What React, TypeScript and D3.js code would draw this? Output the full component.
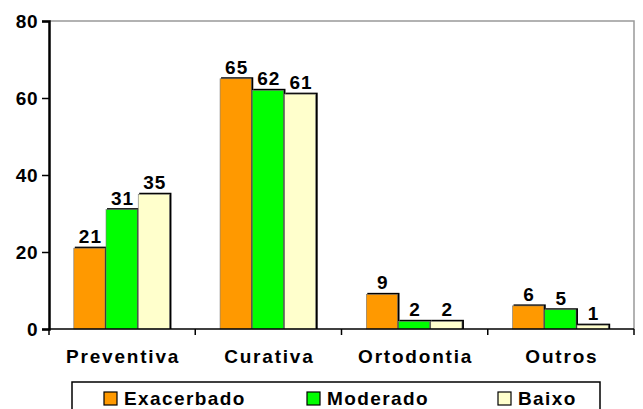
import { useRef, useEffect } from 'react';
import * as d3 from 'd3';

// chart data
const categories = ['Preventiva', 'Curativa', 'Ortodontia', 'Outros'];
const seriesNames = ['Exacerbado', 'Moderado', 'Baixo'];
const exacerbado = [21, 65, 9, 6];
const moderado = [31, 62, 2, 5];
const baixo = [35, 61, 2, 1];
const yTicks = [0, 20, 40, 60, 80];

const COLORS = ['#FF9900', '#00FF00', '#FFFFCC'];
const W = 643;
const H = 409;
const FONT = "'Liberation Sans', Arial, sans-serif";

export default function App() {
  const svgRef = useRef(null);

  useEffect(() => {
    const svg = d3.select(svgRef.current);
    svg.selectAll('*').remove();

    const margin = { top: 21, right: 9, bottom: 80, left: 49 };
    const series = [exacerbado, moderado, baixo];

    const x = d3.scaleBand()
      .domain(categories)
      .range([margin.left, W - margin.right])
      .paddingInner(0)
      .paddingOuter(0);

    const inner = d3.scaleBand()
      .domain(seriesNames)
      .range([0, x.bandwidth()])
      .paddingOuter(0.77)
      .paddingInner(0);

    const y = d3.scaleLinear()
      .domain([0, 80])
      .range([H - margin.bottom, margin.top]);

    svg.append('rect').attr('width', W).attr('height', H).attr('fill', '#fff');

    // plot frame (grey top/right)
    svg.append('path')
      .attr('d', `M${margin.left},${y(80)} H${W - margin.right} V${y(0)}`)
      .attr('fill', 'none')
      .attr('stroke', '#999')
      .attr('stroke-width', 1.5);

    // bars
    seriesNames.forEach((name, si) => {
      categories.forEach((cat, ci) => {
        const v = series[si][ci];
        const bx = x(cat) + inner(name);
        const bw = inner.bandwidth();
        const by = y(v);
        const bh = y(0) - by;
        // shadow edge (top/right)
        svg.append('rect')
          .attr('x', bx + 1)
          .attr('y', by - 1.5)
          .attr('width', bw)
          .attr('height', bh + 1.5)
          .attr('fill', '#000');
        svg.append('rect')
          .attr('x', bx)
          .attr('y', by)
          .attr('width', bw - 1)
          .attr('height', bh)
          .attr('fill', COLORS[si])
          .attr('stroke', '#777')
          .attr('stroke-width', 0.6);
        svg.append('text')
          .attr('x', bx + bw / 2 + 0.5)
          .attr('y', by - 5)
          .attr('text-anchor', 'middle')
          .attr('font-family', FONT)
          .attr('font-weight', 'bold')
          .attr('font-size', 19)
          .attr('letter-spacing', 1)
          .attr('fill', '#000')
          .text(v);
      });
    });

    // y axis
    const yAxis = d3.axisLeft(y).tickValues(yTicks).tickSize(7).tickPadding(4);
    const gy = svg.append('g')
      .attr('transform', `translate(${margin.left},0)`)
      .call(yAxis);
    gy.select('.domain').attr('stroke', '#000').attr('stroke-width', 2.5);
    gy.selectAll('.tick line').attr('stroke', '#000').attr('stroke-width', 1.5);
    gy.selectAll('text')
      .attr('font-family', FONT)
      .attr('font-weight', 'bold')
      .attr('font-size', 19)
      .attr('letter-spacing', 0.5)
      .attr('fill', '#000');

    // x axis baseline and category separators
    svg.append('line')
      .attr('x1', margin.left)
      .attr('x2', W - margin.right)
      .attr('y1', y(0))
      .attr('y2', y(0))
      .attr('stroke', '#000')
      .attr('stroke-width', 1.5);
    categories.forEach((cat, i) => {
      const edges = i === 0 ? [x(cat), x(cat) + x.bandwidth()] : [x(cat) + x.bandwidth()];
      edges.forEach(ex => {
        svg.append('line')
          .attr('x1', ex).attr('x2', ex)
          .attr('y1', y(0)).attr('y2', y(0) + 6)
          .attr('stroke', '#000')
          .attr('stroke-width', 1.5);
      });
      svg.append('text')
        .attr('x', x(cat) + x.bandwidth() / 2 + 1)
        .attr('y', y(0) + 34)
        .attr('text-anchor', 'middle')
        .attr('font-family', FONT)
        .attr('font-weight', 'bold')
        .attr('font-size', 19)
        .attr('letter-spacing', 1.8)
        .attr('fill', '#000')
        .text(cat);
    });

    // legend
    const lg = svg.append('g');
    lg.append('rect')
      .attr('x', 72)
      .attr('y', 382)
      .attr('width', 528)
      .attr('height', 40)
      .attr('fill', '#fff')
      .attr('stroke', '#000')
      .attr('stroke-width', 1.5);
    const legendX = [104, 307, 498];
    seriesNames.forEach((name, i) => {
      lg.append('rect')
        .attr('x', legendX[i])
        .attr('y', 392)
        .attr('width', 13)
        .attr('height', 13)
        .attr('fill', COLORS[i])
        .attr('stroke', '#000')
        .attr('stroke-width', 1.2);
      lg.append('text')
        .attr('x', legendX[i] + 20)
        .attr('y', 405)
        .attr('font-family', FONT)
        .attr('font-weight', 'bold')
        .attr('font-size', 19)
        .attr('letter-spacing', 1.4)
        .attr('fill', '#000')
        .text(name);
    });
  }, []);

  return (
    <svg
      ref={svgRef}
      width={W}
      height={H}
      style={{ position: 'absolute', left: 0, top: 0, display: 'block' }}
    />
  );
}
